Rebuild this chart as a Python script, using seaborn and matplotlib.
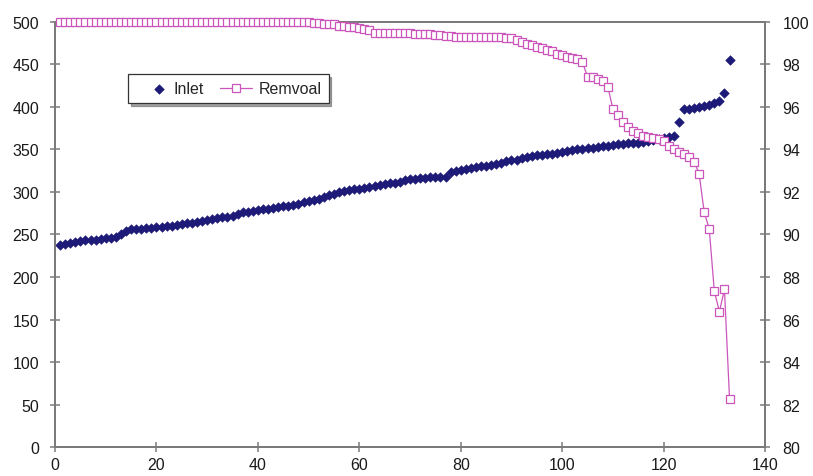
import matplotlib
matplotlib.use("Agg")
import matplotlib.pyplot as plt
import pandas as pd
import seaborn as sns
from matplotlib.legend_handler import HandlerPathCollection

# Sample number along the x axis
sample = list(range(1, 134))

# Inlet concentration (left axis)
inlet = [
    238, 239, 240, 241, 242, 243, 244, 244, 245, 246, 246, 247,
    250, 254,
    256, 257, 257, 258, 258, 259, 259, 260, 260,
    261, 262, 263, 264, 265, 266, 267, 268, 269, 270, 271, 272, 274,
    276, 277, 278, 279, 280, 280, 281, 282, 283, 284, 285,
    286, 288, 289, 290, 292, 294, 296, 298, 300,
    301, 302, 303, 304, 305, 306, 307, 308, 309, 310,
    311, 312, 314, 315, 315, 316, 316, 317, 317, 318, 318,
    323, 325,
    326, 327, 328, 329, 330, 331, 332, 333, 334, 336, 337, 338, 340, 341, 342,
    343, 343, 344, 345, 346, 347, 348, 349, 350, 351,
    352, 352, 353, 354, 354, 355, 356, 356, 357, 358, 358, 359, 360, 361,
    362, 363, 364,
    366, 382,
    397, 398, 399, 400, 401, 402, 404, 407,
    416, 455,
]

# Removal efficiency in % (right axis)
removal = [
    100.0, 100.0, 100.0, 100.0, 100.0, 100.0, 100.0, 100.0, 100.0, 100.0,
    100.0, 100.0, 100.0, 100.0, 100.0, 100.0, 100.0, 100.0, 100.0, 100.0,
    100.0, 100.0, 100.0, 100.0, 100.0, 100.0, 100.0, 100.0, 100.0, 100.0,
    100.0, 100.0, 100.0, 100.0, 100.0, 100.0, 100.0, 100.0, 100.0, 100.0,
    100.0, 100.0, 100.0, 100.0, 100.0, 100.0, 100.0, 100.0, 100.0, 100.0,
    99.95, 99.92, 99.90, 99.90, 99.88,
    99.80, 99.78, 99.76, 99.75, 99.72,
    99.68, 99.62,
    99.45, 99.45, 99.45, 99.45, 99.45, 99.45, 99.45, 99.45,
    99.44, 99.43, 99.42, 99.40, 99.38, 99.36, 99.35, 99.33,
    99.30, 99.30, 99.30, 99.30, 99.29, 99.28, 99.28, 99.27, 99.27, 99.26,
    99.25, 99.22,
    99.15, 99.05, 98.95, 98.90, 98.80, 98.75, 98.65, 98.60, 98.50, 98.45,
    98.35, 98.30, 98.25, 98.10, 97.40, 97.38, 97.30, 97.20, 96.95, 95.90,
    95.60, 95.30, 95.05, 94.85, 94.75, 94.65, 94.60, 94.55, 94.50, 94.40,
    94.14, 94.04, 93.90, 93.76, 93.66, 93.43, 92.86, 91.06, 90.26, 87.33,
    86.38, 87.42, 82.27,
]

x_ticks = [0, 20, 40, 60, 80, 100, 120, 140]
left_ticks = [0, 50, 100, 150, 200, 250, 300, 350, 400, 450, 500]
right_ticks = [80, 82, 84, 86, 88, 90, 92, 94, 96, 98, 100]
series_names = ["Inlet", "Remvoal"]

NAVY = "#1e1b78"
PINK = "#cc55bb"
AXIS_GREY = "#7a7a7a"
TEXT = "#1a1a1a"

sns.set_style("white")
plt.rcParams["font.family"] = ["Liberation Sans", "DejaVu Sans"]

df = pd.DataFrame({"Sample": sample, series_names[0]: inlet, series_names[1]: removal})

fig = plt.figure(figsize=(8.13, 4.77), dpi=100)
ax1 = fig.add_axes([0.0677, 0.0602, 0.8733, 0.8922])
ax2 = ax1.twinx()

sns.scatterplot(data=df, x="Sample", y=series_names[0], ax=ax1, marker="D", s=24,
                color=NAVY, edgecolor=NAVY, linewidth=0.4, legend=False, zorder=3)
sns.lineplot(data=df, x="Sample", y=series_names[1], ax=ax2, color=PINK, lw=0.9,
             marker="s", markersize=5.2, markerfacecolor="white",
             markeredgecolor=PINK, markeredgewidth=0.9, legend=False,
             clip_on=False, zorder=5)

ax1.set_xlim(x_ticks[0], x_ticks[-1])
ax1.set_ylim(left_ticks[0], left_ticks[-1])
ax2.set_ylim(right_ticks[0], right_ticks[-1])
ax1.set_xticks(x_ticks)
ax1.set_yticks(left_ticks)
ax2.set_yticks(right_ticks)
ax1.set_xlabel("")
ax1.set_ylabel("")
ax2.set_ylabel("")

for ax in (ax1, ax2):
    for sp in ax.spines.values():
        sp.set_visible(True)
        sp.set_color(AXIS_GREY)
        sp.set_linewidth(1.4)

ax1.tick_params(axis="y", direction="inout", length=7, width=1.1, color=AXIS_GREY,
                labelsize=11.5, labelcolor=TEXT, pad=8, left=True)
ax1.tick_params(axis="x", direction="inout", length=7, width=1.1, color=AXIS_GREY,
                labelsize=11.5, labelcolor=TEXT, pad=3.5, bottom=True)
ax2.tick_params(axis="y", direction="inout", length=7, width=1.1, color=AXIS_GREY,
                labelsize=11.5, labelcolor=TEXT, pad=9, right=True)

h_inlet = ax1.collections[0]
h_removal = ax2.lines[0]
leg = ax2.legend([h_inlet, h_removal], series_names, ncol=2, loc="upper left",
                 bbox_to_anchor=(0.103, 0.877), borderaxespad=0, frameon=True,
                 fancybox=False, shadow=True, fontsize=11.5, handlelength=2.0,
                 handletextpad=0.4, columnspacing=1.0, borderpad=0.45,
                 scatterpoints=1, numpoints=1,
                 handler_map={h_inlet: HandlerPathCollection(xpad=1.0)})
leg.get_frame().set_edgecolor("#333333")
leg.get_frame().set_linewidth(0.9)
leg.set_zorder(10)

fig.savefig("out.png", dpi=100)
